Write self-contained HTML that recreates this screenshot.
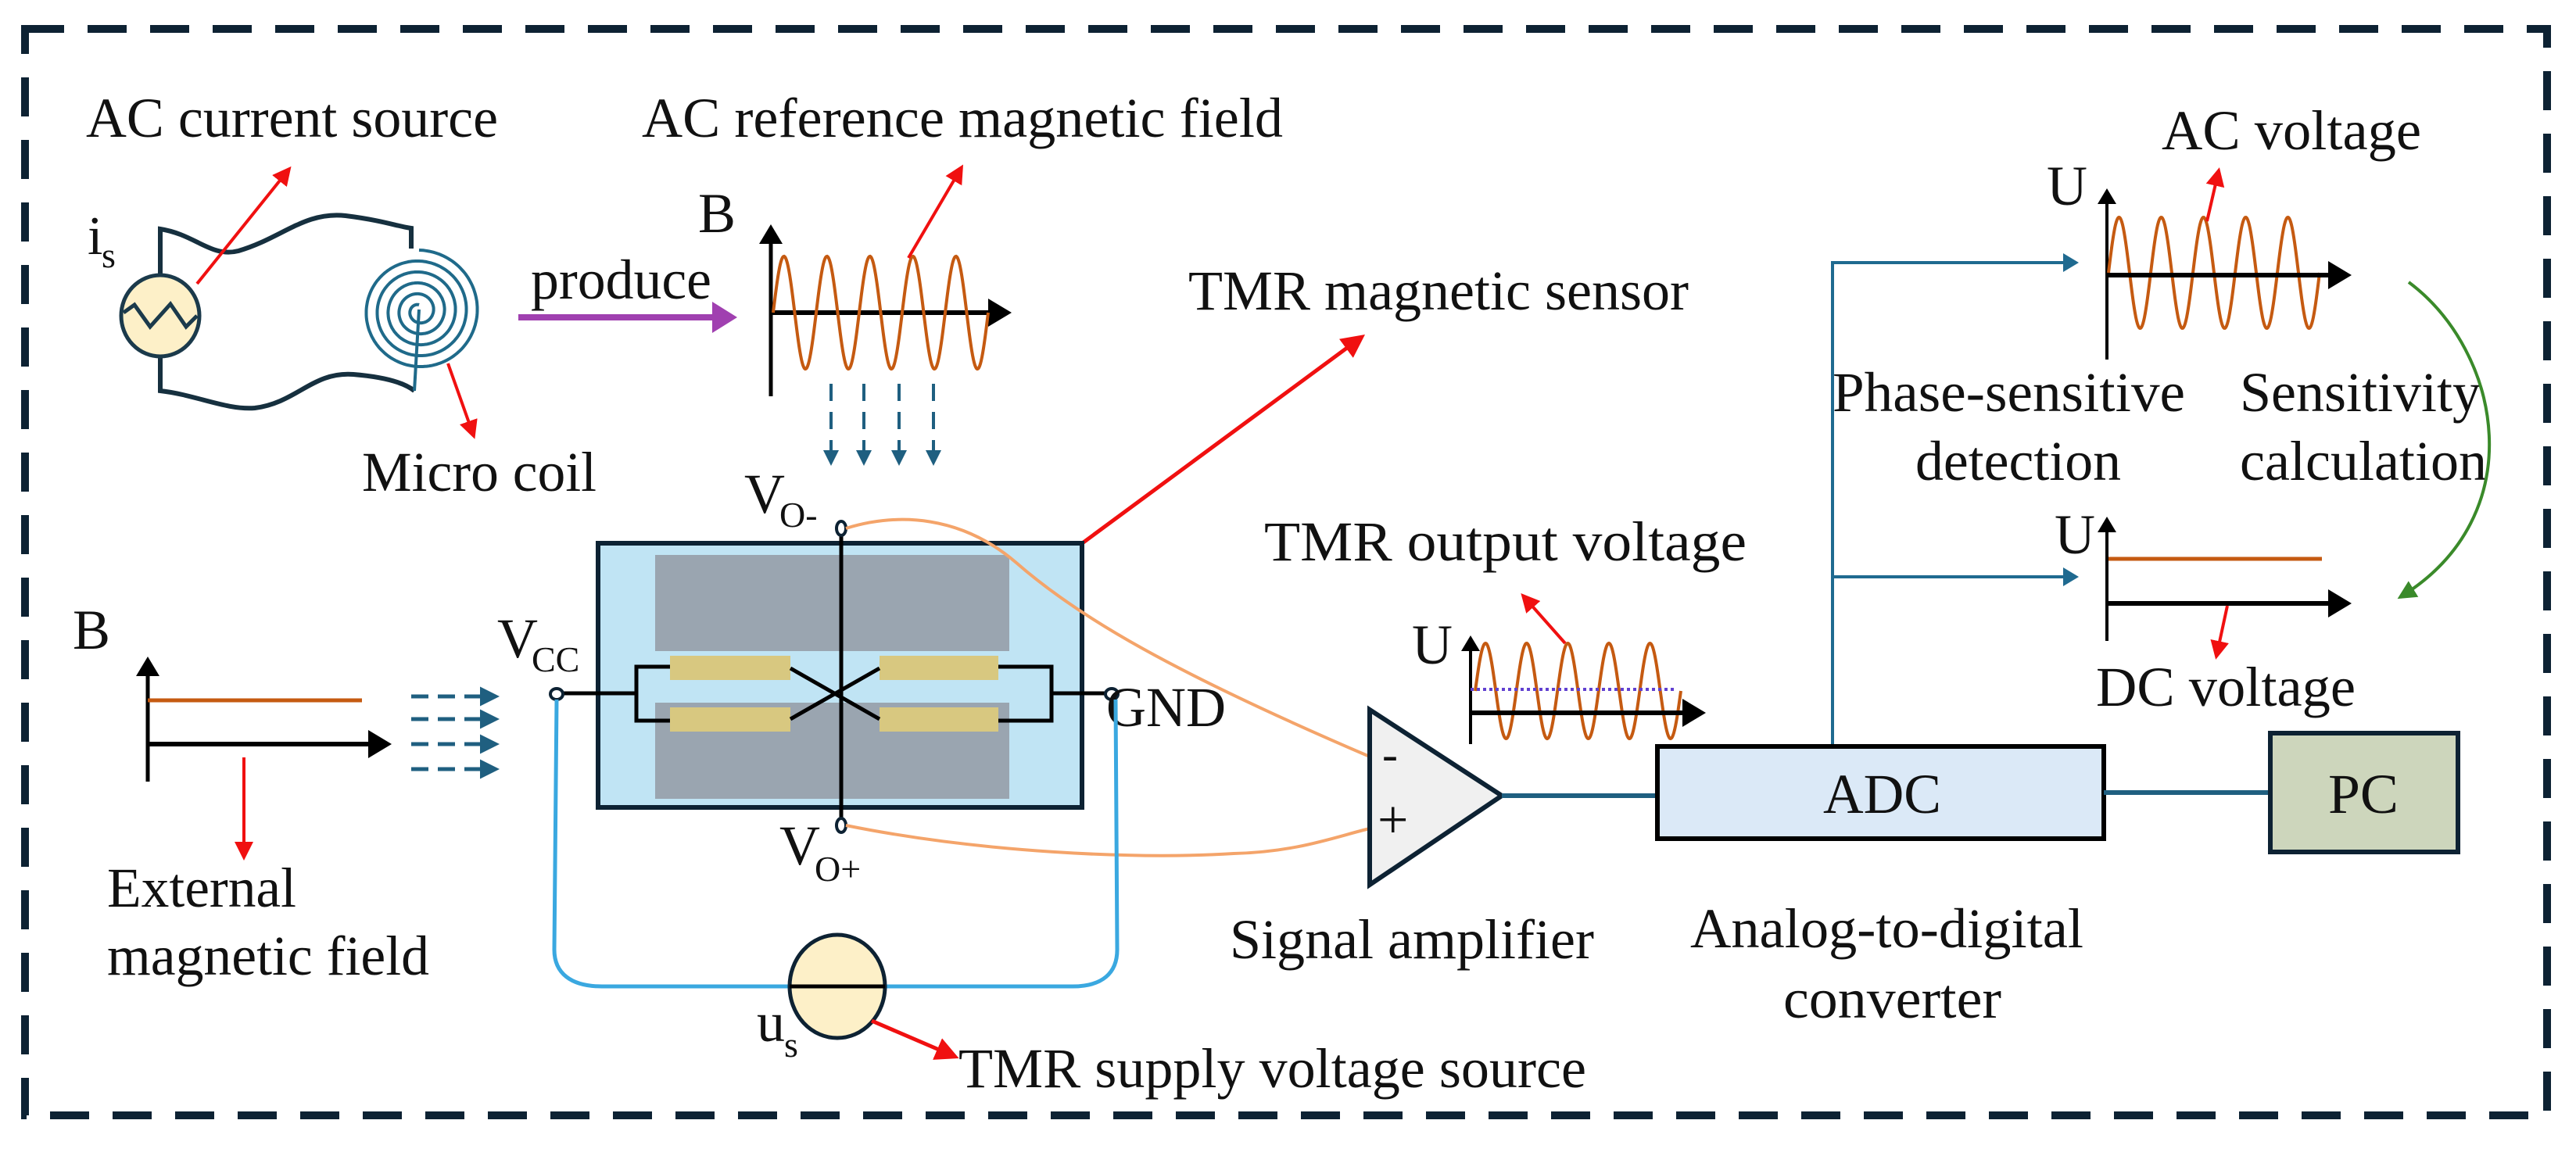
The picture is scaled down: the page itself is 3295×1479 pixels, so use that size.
<!DOCTYPE html>
<html><head><meta charset="utf-8"><style>
html,body{margin:0;padding:0;background:#fff;}
svg{display:block;}
text{font-family:"Liberation Serif",serif;fill:#111;}
</style></head><body>
<svg id="s" width="3295" height="1479" viewBox="0 0 3295 1479" xmlns="http://www.w3.org/2000/svg">
<defs>
<marker id="ar" markerWidth="6" markerHeight="6" refX="5" refY="3" orient="auto" markerUnits="strokeWidth"><path d="M0,0 L6,3 L0,6 z" fill="#f01010"/></marker>
<marker id="ab" markerWidth="5" markerHeight="6" refX="4" refY="3" orient="auto" markerUnits="strokeWidth"><path d="M0,0 L5,3 L0,6 z" fill="#000"/></marker>
<marker id="abl" markerWidth="5" markerHeight="6" refX="4" refY="3" orient="auto" markerUnits="strokeWidth"><path d="M0,0 L5,3 L0,6 z" fill="#1f6a90"/></marker>
<marker id="ap" markerWidth="4" markerHeight="5" refX="3" refY="2.5" orient="auto" markerUnits="strokeWidth"><path d="M0,0 L4,2.5 L0,5 z" fill="#a040b0"/></marker>
<marker id="ag" markerWidth="6" markerHeight="6" refX="5" refY="3" orient="auto" markerUnits="strokeWidth"><path d="M0,0 L6,3 L0,6 z" fill="#3a8a2a"/></marker>
<marker id="ad" markerWidth="5" markerHeight="5" refX="4" refY="2.5" orient="auto" markerUnits="strokeWidth"><path d="M0,0 L5,2.5 L0,5 z" fill="#1f5f80"/></marker>
</defs>

<rect x="32" y="37" width="3226" height="1390" fill="none" stroke="#0d2233" stroke-width="10" stroke-dasharray="50 30"/>

<!-- AC current source + coil -->
<path d="M205,354 L205,293 C250,300 270,330 305,321 C360,305 390,270 442,276 C490,282 510,290 526,292 L526,318" fill="none" stroke="#16303f" stroke-width="6"/>
<path d="M205,456 L205,500 C250,505 290,525 326,522 C380,515 400,475 452,479 C500,483 520,492 530,500" fill="none" stroke="#16303f" stroke-width="6"/>
<ellipse cx="205" cy="404" rx="50" ry="52" fill="#fdf0c8" stroke="#1b3a4b" stroke-width="5"/>
<path d="M158,400 L172,390 L192,418 L218,389 L238,418 L252,404" fill="none" stroke="#1b3a4b" stroke-width="5"/>
<path id="spiral" fill="none" stroke="#1f6a8a" stroke-width="4"/>
<line x1="536" y1="396" x2="530" y2="500" stroke="#1f6a8a" stroke-width="4"/>
<text x="112" y="325" font-size="70">i</text><text x="130" y="342" font-size="46">s</text>
<line x1="252" y1="363" x2="370" y2="216" stroke="#f01010" stroke-width="4" marker-end="url(#ar)"/>
<line x1="573" y1="465" x2="606" y2="558" stroke="#f01010" stroke-width="4" marker-end="url(#ar)"/>
<text x="110" y="175" font-size="72" textLength="527" lengthAdjust="spacingAndGlyphs">AC current source</text>
<text x="463" y="628" font-size="72" textLength="300" lengthAdjust="spacingAndGlyphs">Micro coil</text>
<text x="679" y="382" font-size="72" textLength="231" lengthAdjust="spacingAndGlyphs">produce</text>
<line x1="663" y1="406" x2="935" y2="406" stroke="#a040b0" stroke-width="8" marker-end="url(#ap)"/>

<text x="821" y="175" font-size="72" textLength="820" lengthAdjust="spacingAndGlyphs">AC reference magnetic field</text>
<text x="893" y="297" font-size="72">B</text>
<line x1="986" y1="507" x2="986" y2="292" stroke="#000" stroke-width="5" marker-end="url(#ab)"/>
<line x1="986" y1="400" x2="1288" y2="400" stroke="#000" stroke-width="6" marker-end="url(#ab)"/>
<path id="sin1" fill="none" stroke="#c55a11" stroke-width="4"/>
<line x1="1162" y1="330" x2="1230" y2="214" stroke="#f01010" stroke-width="4" marker-end="url(#ar)"/>
<g stroke="#1f5f80" stroke-width="4" stroke-dasharray="22 14">
<line x1="1063" y1="491" x2="1063" y2="592" marker-end="url(#ad)"/>
<line x1="1105" y1="491" x2="1105" y2="592" marker-end="url(#ad)"/>
<line x1="1150" y1="491" x2="1150" y2="592" marker-end="url(#ad)"/>
<line x1="1194" y1="491" x2="1194" y2="592" marker-end="url(#ad)"/>
</g>

<line x1="1383" y1="696" x2="1742" y2="431" stroke="#f01010" stroke-width="5" marker-end="url(#ar)"/>
<text x="1520" y="396" font-size="72" textLength="640" lengthAdjust="spacingAndGlyphs">TMR magnetic sensor</text>
<rect x="765" y="695" width="619" height="338" fill="#c0e4f4" stroke="#0d2233" stroke-width="6"/>
<rect x="838" y="710" width="453" height="123" fill="#9aa5b0"/>
<rect x="838" y="899" width="453" height="123" fill="#9aa5b0"/>
<g fill="#d8c880">
<rect x="857" y="839" width="154" height="31"/><rect x="1125" y="839" width="152" height="31"/>
<rect x="857" y="905" width="154" height="31"/><rect x="1125" y="905" width="152" height="31"/>
</g>
<g stroke="#000" stroke-width="5" fill="none">
<polyline points="857,853 814,853 814,922 857,922"/>
<polyline points="1277,853 1345,853 1345,922 1277,922"/>
<line x1="714" y1="887" x2="814" y2="887"/>
<line x1="1345" y1="887" x2="1420" y2="887"/>
<line x1="1011" y1="855" x2="1125" y2="920"/>
<line x1="1011" y1="920" x2="1125" y2="855"/>
<line x1="1076" y1="682" x2="1076" y2="1050"/>
</g>
<g fill="#fff" stroke="#0d2233" stroke-width="4">
<ellipse cx="1076" cy="676" rx="6" ry="9"/><ellipse cx="1076" cy="1056" rx="6" ry="9"/>
<ellipse cx="712" cy="888" rx="8" ry="7"/><ellipse cx="1422" cy="888" rx="8" ry="7"/>
</g>
<text x="952" y="656" font-size="72">V</text><text x="997" y="674" font-size="46">O-</text>
<text x="997" y="1106" font-size="72">V</text><text x="1042" y="1127" font-size="46">O+</text>
<text x="636" y="841" font-size="72">V</text><text x="680" y="859" font-size="46">CC</text>
<text x="1415" y="929" font-size="72" textLength="153" lengthAdjust="spacingAndGlyphs">GND</text>

<path d="M1082,676 C1150,655 1230,660 1300,720 C1380,790 1500,860 1752,968" fill="none" stroke="#f4a46a" stroke-width="4"/>
<path d="M1082,1056 C1250,1090 1450,1100 1578,1092 C1660,1090 1710,1070 1752,1060" fill="none" stroke="#f4a46a" stroke-width="4"/>

<path d="M712,895 L709,1215 C709,1245 730,1262 770,1262 L1372,1262 C1410,1262 1429,1245 1429,1215 L1427,895" fill="none" stroke="#3aa8e0" stroke-width="5"/>
<ellipse cx="1071" cy="1262" rx="61" ry="66" fill="#fdf0c8" stroke="#0d2233" stroke-width="5"/>
<line x1="1010" y1="1262" x2="1132" y2="1262" stroke="#000" stroke-width="5"/>
<text x="968" y="1332" font-size="72">u</text><text x="1003" y="1352" font-size="46">s</text>
<line x1="1115" y1="1306" x2="1222" y2="1352" stroke="#f01010" stroke-width="5" marker-end="url(#ar)"/>
<text x="1226" y="1391" font-size="72" textLength="803" lengthAdjust="spacingAndGlyphs">TMR supply voltage source</text>

<text x="93" y="830" font-size="72">B</text>
<line x1="189" y1="1000" x2="189" y2="845" stroke="#000" stroke-width="5" marker-end="url(#ab)"/>
<line x1="189" y1="896" x2="463" y2="896" stroke="#c55a11" stroke-width="5"/>
<line x1="189" y1="952" x2="495" y2="952" stroke="#000" stroke-width="6" marker-end="url(#ab)"/>
<line x1="312" y1="969" x2="312" y2="1097" stroke="#f01010" stroke-width="4" marker-end="url(#ar)"/>
<text x="137" y="1160" font-size="72" textLength="242" lengthAdjust="spacingAndGlyphs">External</text>
<text x="137" y="1247" font-size="72" textLength="412" lengthAdjust="spacingAndGlyphs">magnetic field</text>
<g stroke="#1f5f80" stroke-width="5" stroke-dasharray="22 12">
<line x1="526" y1="891" x2="634" y2="891" marker-end="url(#ad)"/>
<line x1="526" y1="920" x2="634" y2="920" marker-end="url(#ad)"/>
<line x1="526" y1="952" x2="634" y2="952" marker-end="url(#ad)"/>
<line x1="526" y1="984" x2="634" y2="984" marker-end="url(#ad)"/>
</g>

<polygon points="1752,908 1752,1132 1921,1018" fill="#f0f0f0" stroke="#0d2233" stroke-width="6"/>
<text x="1768" y="985" font-size="60">-</text>
<text x="1762" y="1072" font-size="70">+</text>
<line x1="1921" y1="1018" x2="2120" y2="1018" stroke="#1f5f80" stroke-width="6"/>
<text x="1573" y="1226" font-size="72" textLength="466" lengthAdjust="spacingAndGlyphs">Signal amplifier</text>

<text x="1617" y="717" font-size="72" textLength="617" lengthAdjust="spacingAndGlyphs">TMR output voltage</text>
<text x="1806" y="849" font-size="72">U</text>
<line x1="1881" y1="952" x2="1881" y2="817" stroke="#000" stroke-width="4" marker-end="url(#ab)"/>
<path id="sin3" fill="none" stroke="#c55a11" stroke-width="4"/>
<line x1="1881" y1="882" x2="2144" y2="882" stroke="#6040d0" stroke-width="4" stroke-dasharray="4 4"/>
<line x1="1881" y1="912" x2="2176" y2="912" stroke="#000" stroke-width="6" marker-end="url(#ab)"/>
<line x1="2002" y1="823" x2="1948" y2="762" stroke="#f01010" stroke-width="4" marker-end="url(#ar)"/>

<polyline points="2344,955 2344,336 2655,336" fill="none" stroke="#1f6a90" stroke-width="4" marker-end="url(#abl)"/>
<line x1="2344" y1="738" x2="2655" y2="738" stroke="#1f6a90" stroke-width="4" marker-end="url(#abl)"/>
<rect x="2120" y="955" width="571" height="118" fill="#dbe9f7" stroke="#000" stroke-width="6"/>
<text x="2332" y="1040" font-size="72" textLength="151" lengthAdjust="spacingAndGlyphs">ADC</text>
<line x1="2691" y1="1014" x2="2904" y2="1014" stroke="#1f5f80" stroke-width="6"/>
<rect x="2904" y="938" width="240" height="152" fill="#cdd6bc" stroke="#0d2233" stroke-width="6"/>
<text x="2978" y="1040" font-size="72" textLength="90" lengthAdjust="spacingAndGlyphs">PC</text>
<text x="2162" y="1212" font-size="72" textLength="503" lengthAdjust="spacingAndGlyphs">Analog-to-digital</text>
<text x="2281" y="1302" font-size="72" textLength="279" lengthAdjust="spacingAndGlyphs">converter</text>

<text x="2765" y="191" font-size="72" textLength="332" lengthAdjust="spacingAndGlyphs">AC voltage</text>
<text x="2618" y="262" font-size="72">U</text>
<line x1="2695" y1="460" x2="2695" y2="245" stroke="#000" stroke-width="4" marker-end="url(#ab)"/>
<path id="sin2" fill="none" stroke="#c55a11" stroke-width="4"/>
<line x1="2695" y1="352" x2="3002" y2="352" stroke="#000" stroke-width="6" marker-end="url(#ab)"/>
<line x1="2823" y1="283" x2="2838" y2="218" stroke="#f01010" stroke-width="4" marker-end="url(#ar)"/>
<text x="2344" y="526" font-size="72" textLength="451" lengthAdjust="spacingAndGlyphs">Phase-sensitive</text>
<text x="2450" y="614" font-size="72" textLength="263" lengthAdjust="spacingAndGlyphs">detection</text>
<text x="2865" y="526" font-size="72" textLength="308" lengthAdjust="spacingAndGlyphs">Sensitivity</text>
<text x="2865" y="614" font-size="72" textLength="316" lengthAdjust="spacingAndGlyphs">calculation</text>
<path d="M3081,361 C3200,450 3240,660 3070,764" fill="none" stroke="#3a8a2a" stroke-width="4" marker-end="url(#ag)"/>

<text x="2628" y="708" font-size="72">U</text>
<line x1="2695" y1="820" x2="2695" y2="665" stroke="#000" stroke-width="4" marker-end="url(#ab)"/>
<line x1="2697" y1="715" x2="2970" y2="715" stroke="#c55a11" stroke-width="5"/>
<line x1="2695" y1="772" x2="3002" y2="772" stroke="#000" stroke-width="6" marker-end="url(#ab)"/>
<line x1="2849" y1="775" x2="2835" y2="840" stroke="#f01010" stroke-width="4" marker-end="url(#ar)"/>
<text x="2681" y="903" font-size="72" textLength="332" lengthAdjust="spacingAndGlyphs">DC voltage</text>
</svg>
<script>
function sine(id,x0,per,n,cy,amp){var p=[];var N=n*per;for(var i=0;i<=N;i+=1){p.push((x0+i).toFixed(1)+","+(cy-amp*Math.sin(2*Math.PI*i/per)).toFixed(1));}document.getElementById(id).setAttribute("d","M"+p.join(" L"));}
sine("sin1",989,55,5,400,72);
sine("sin2",2697,54,5,349,71);
sine("sin3",1887,52.6,5,884,61);
(function(){var cx=536,cy=398,p=[];var turns=5,r0=78,r1=8,N=900;
for(var i=0;i<=N;i++){var t=i/N;var a=-Math.PI/2+t*turns*2*Math.PI;var r=r0-(r0-r1)*t;p.push((cx+r*Math.cos(a)).toFixed(1)+","+(cy+r*Math.sin(a)).toFixed(1));}
document.getElementById("spiral").setAttribute("d","M"+p.join(" L"));})();
</script>
</body></html>
